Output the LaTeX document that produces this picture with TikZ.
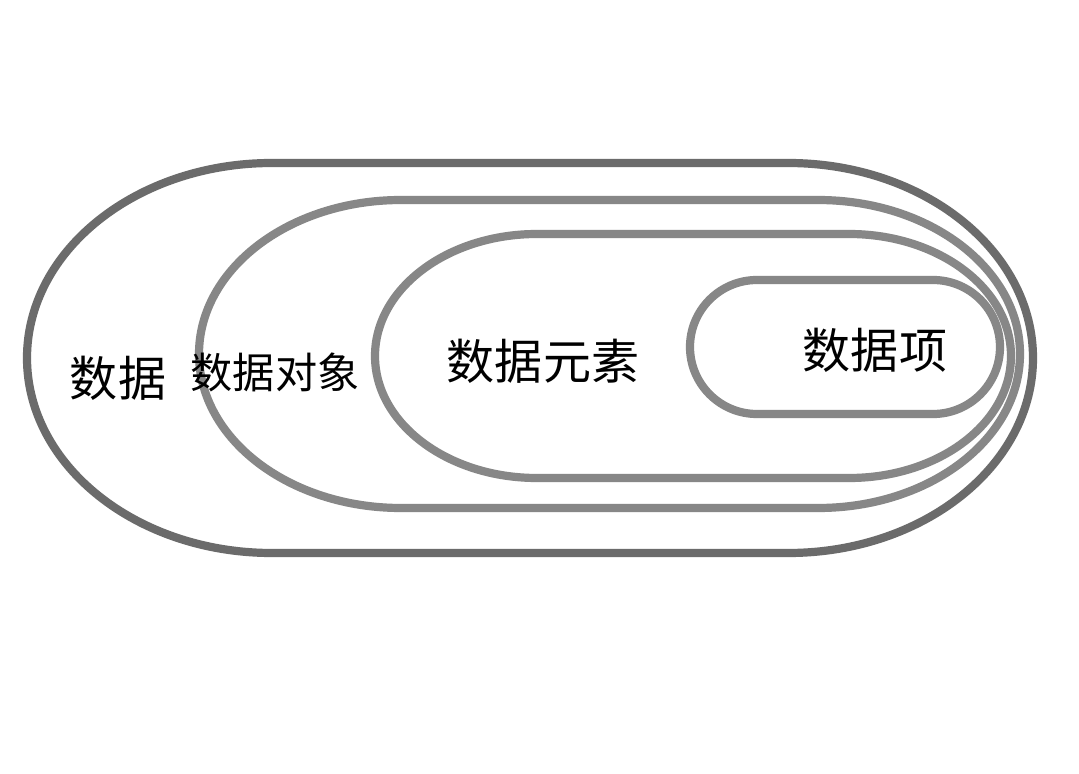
\documentclass[tikz,border=0pt]{standalone}
\usepackage{fontspec}
\usepackage{xcolor}
\usetikzlibrary{positioning}
\newfontfamily\cjk{Noto Sans CJK SC}
\definecolor{ringdark}{HTML}{6B6B6B}
\definecolor{ringgray}{HTML}{878787}
% stadium outline: left x, right x, centre y, half height, end radius
\newcommand{\ringpath}[6][ringgray]{%
  \draw[ring, #1] ({#2+#6},{#4+#5}) -- ({#3-#6},{#4+#5})
    arc[start angle=90, end angle=-90, x radius=#6, y radius=#5]
    -- ({#2+#6},{#4-#5})
    arc[start angle=270, end angle=90, x radius=#6, y radius=#5] -- cycle;}

\begin{document}
\begin{tikzpicture}[x=0.03cm, y=0.03cm,
                    ring/.style={line width=7pt},
                    lbl/.style={font=\cjk\fontsize{41}{41}\selectfont, inner sep=0pt}]
                    \useasboundingbox (0,0) rectangle (1079,773);
                    \fill[white] (0,0) rectangle (1079,773);

                    % Nested outlines, outer to inner
                    \ringpath[ringdark]{27}{1033}{415}{195}{245}
                    \ringpath{199}{1020}{419}{154}{202}
                    \ringpath{375}{1011}{417}{122}{162}
                    \ringpath{690}{1000}{426}{67}{67}

                    % Labels
                    \node[lbl] (data) at (118,395) {数据};
                    \node[lbl, font=\cjk\fontsize{36}{36}\selectfont] (obj) at (275,401) {数据对象};
                    \node[lbl] (elem) at (543,412) {数据元素};
                    \node[lbl] (item) at (875,423) {数据项};
                \end{tikzpicture}
\end{document}
